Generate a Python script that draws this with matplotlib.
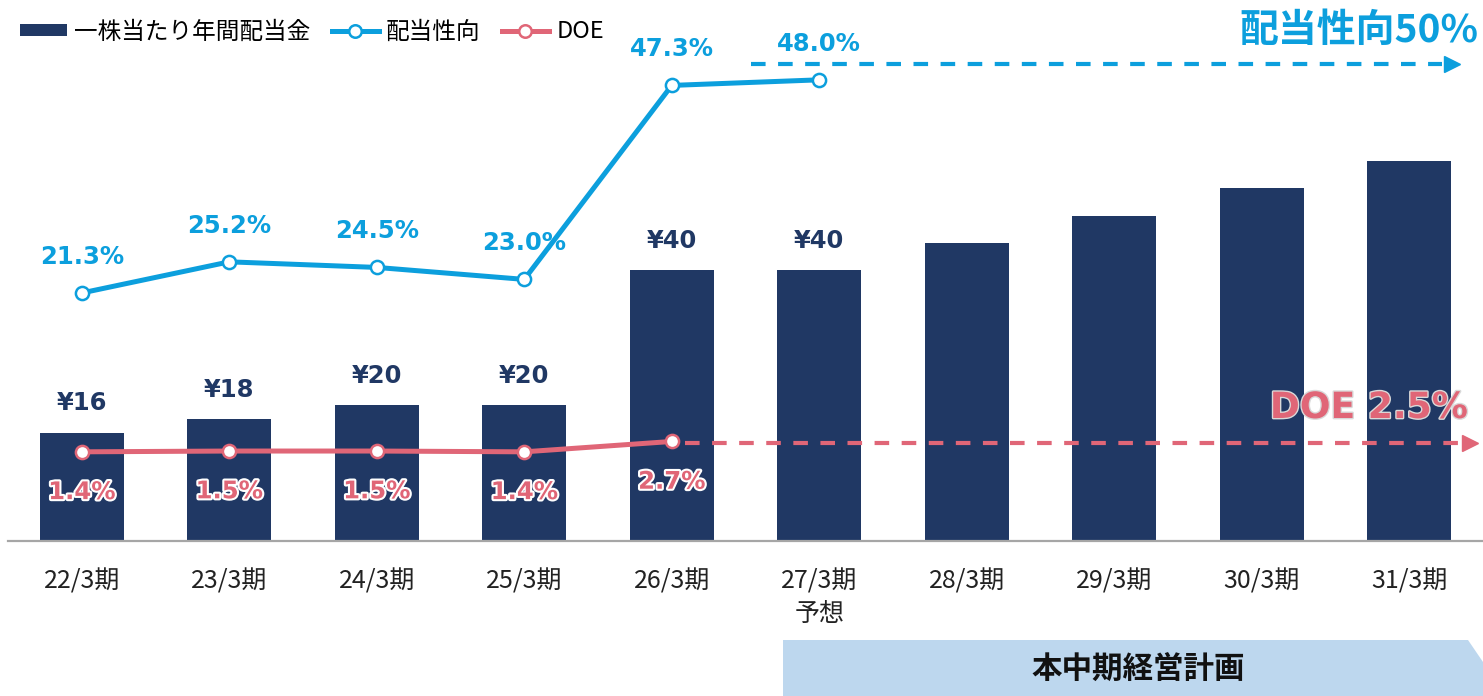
import matplotlib
matplotlib.use("Agg")
import matplotlib.pyplot as plt
import matplotlib.patheffects as pe
from matplotlib.lines import Line2D
from matplotlib.patches import Patch, Polygon

plt.rcParams['font.family'] = ['Noto Sans CJK JP', 'DejaVu Sans']

# data
periods = ["22/3期", "23/3期", "24/3期", "25/3期", "26/3期",
           "27/3期\n予想", "28/3期", "29/3期", "30/3期", "31/3期"]
dividend = [16, 18, 20, 20, 40, 40, 44, 48, 52, 56]
dividend_labels = ["¥16", "¥18", "¥20", "¥20", "¥40", "¥40", "", "", "", ""]
payout = [21.3, 25.2, 24.5, 23.0, 47.3, 48.0]
doe = [1.4, 1.5, 1.5, 1.4, 2.7]
payout_target = 50
doe_target = 2.5

NAVY = "#203864"
BLUE = "#0C9FDD"
PINK = "#E06677"
NUM_FONT = ['DejaVu Sans', 'Noto Sans CJK JP']

W, H = 1483, 696
fig = plt.figure(figsize=(W / 100, H / 100), dpi=100)
ax = fig.add_axes([8 / W, 155 / H, 1475 / W, 541 / H])
ax2 = ax.twinx()

x = list(range(len(periods)))
ax.bar(x, dividend, width=0.57, color=NAVY, zorder=2)
for i, (v, lab) in enumerate(zip(dividend, dividend_labels)):
    if lab:
        ax.annotate(lab, (i, v), xytext=(0, 21), textcoords='offset points',
                    ha='center', va='center', fontsize=17.5, fontweight='bold',
                    color=NAVY, family=NUM_FONT)

# payout ratio line
ax2.plot(x[:len(payout)], payout, color=BLUE, lw=3.6, marker='o', ms=9.5,
         mfc='white', mec=BLUE, mew=1.8, zorder=4)
for i, v in enumerate(payout):
    ax2.annotate(f"{v:.1f}%", (i, v), xytext=(0, 26), textcoords='offset points',
                 ha='center', va='center', fontsize=17.5, fontweight='bold',
                 color=BLUE, family=NUM_FONT)

# DOE line
ax2.plot(x[:len(doe)], doe, color=PINK, lw=3.6, marker='o', ms=9.5,
         mfc='white', mec=PINK, mew=1.8, zorder=4)
for i, v in enumerate(doe):
    ax2.annotate(f"{v:.1f}%", (i, v), xytext=(0, -29), textcoords='offset points',
                 ha='center', va='center', fontsize=17.5, fontweight='bold',
                 color=PINK, family=NUM_FONT,
                 path_effects=[pe.withStroke(linewidth=3, foreground='white')])

# target arrows
blue_start = len(payout) - 1 - 0.46
ax2.plot([blue_start, 9.22], [payout_target] * 2, color=BLUE, lw=3, dashes=(3.5, 3), zorder=3)
ax2.plot([9.29], [payout_target], marker='>', ms=11, color=BLUE, zorder=3)
pink_start = len(doe) - 1 + 0.09
ax2.plot([pink_start, 9.36], [doe_target] * 2, color=PINK, lw=3, dashes=(3.5, 3), zorder=3)
ax2.plot([9.41], [doe_target], marker='>', ms=11, color=PINK, zorder=3)

fig.text(1478 / W, 1 - 30 / H, f"配当性向{payout_target}%", ha='right', va='center',
         fontsize=28, fontweight='bold', color=BLUE)
fig.text(1468 / W, 1 - 408 / H, f"DOE {doe_target}%", ha='right', va='center',
         fontsize=26, fontweight='bold', color=PINK, family=NUM_FONT,
         path_effects=[pe.withStroke(linewidth=2, foreground='#d9d9d9')])

# axes styling
ax.set_xlim(-0.5, 9.5)
ax.set_ylim(0, 79.8)
ax2.set_ylim(-9.77, 58.0)
ax.set_xticks(x, periods)
ax.tick_params(axis='x', length=0, pad=20, labelsize=18, labelcolor='#222222')
for t in ax.get_xticklabels():
    t.set_linespacing(1.3)
ax.set_yticks([])
ax2.set_yticks([])
for s in ['top', 'left', 'right']:
    ax.spines[s].set_visible(False)
for s in ax2.spines.values():
    s.set_visible(False)
ax.spines['bottom'].set_color('#a6a6a6')
ax.spines['bottom'].set_linewidth(1.6)
ax.spines['bottom'].set_zorder(3)

# plan box
box = Polygon([(783 / W, 0), (783 / W, 1 - 640 / H), (1468 / W, 1 - 640 / H),
               (1.0, 1 - 662 / H), (1.0, 0)], closed=True,
              transform=fig.transFigure, facecolor='#BDD7EE', edgecolor='none')
fig.patches.append(box)
fig.text(1138 / W, 1 - 670 / H, "本中期経営計画", ha='center', va='center',
         fontsize=22, fontweight='bold', color='#111111')

# legend
handles = [
    Patch(facecolor=NAVY, edgecolor='none'),
    Line2D([], [], color=BLUE, lw=3.6, marker='o', ms=9, mfc='white', mec=BLUE, mew=1.8),
    Line2D([], [], color=PINK, lw=3.6, marker='o', ms=9, mfc='white', mec=PINK, mew=1.8),
]
fig.legend(handles, ["一株当たり年間配当金", "配当性向", "DOE"], loc='center left',
           bbox_to_anchor=(20 / W, 1 - 32 / H), ncol=3, frameon=False,
           fontsize=17, handlelength=2.0, handleheight=0.4, handletextpad=0.3,
           columnspacing=0.9, borderpad=0, borderaxespad=0)

fig.savefig("out.png", dpi=100)
